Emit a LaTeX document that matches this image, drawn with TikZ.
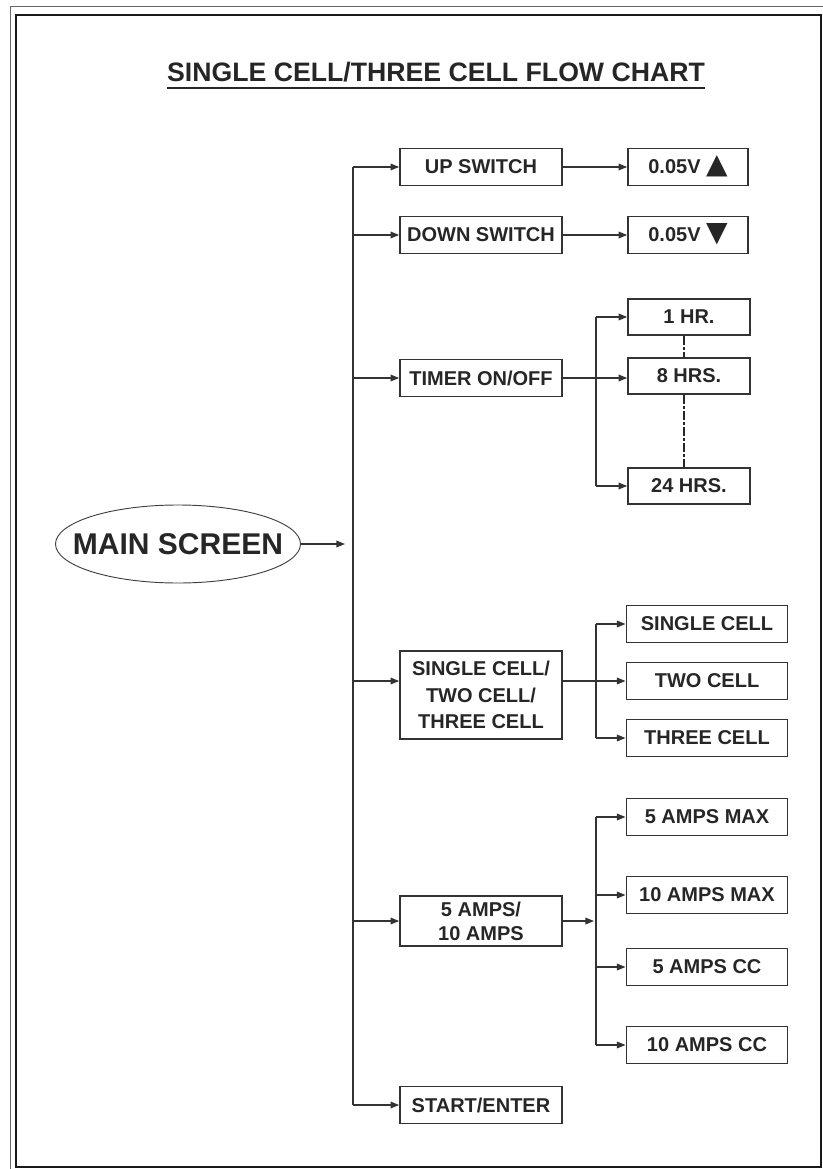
\documentclass[tikz,border=0pt]{standalone}
\usepackage{fontspec}
\setmainfont{Liberation Sans}
\newfontfamily\symfont{DejaVu Sans}
\usetikzlibrary{arrows.meta,shapes.geometric}
\newcommand{\tri}[1]{\smash{\symfont\fontsize{21}{21}\selectfont #1}}
\tikzset{
  box/.style={draw=black!80, line width=1.2pt, inner sep=0pt, align=center,
    text=black!85, font=\fontsize{15}{20}\selectfont\bfseries, minimum height=27.5pt},
  midbox/.style={box, minimum width=121.5pt},
  valbox/.style={box, minimum width=90pt},
  hrbox/.style={box, minimum width=91.5pt, minimum height=27pt},
  optbox/.style={box, minimum width=121pt},
  link/.style={draw=black!80, line width=1pt},
  arr/.style={link, -{Triangle[length=6.5pt,width=5pt]}},
}
\begin{document}
\begin{tikzpicture}[x=0.75pt,y=-0.75pt]
        \useasboundingbox (0,0) rectangle (823,1169);
        \clip (0,0) rectangle (823,1169);
        % Frame
        \draw[black!60, line width=0.7pt] (10,6) rectangle (829,1176);
        \draw[black!90, line width=1.6pt] (16,15) rectangle (821,1167);
        % Title
        \node[anchor=base, inner sep=0pt, text=black!85, font=\fontsize{20}{24}\selectfont\bfseries]
          (title) at (436,82) {SINGLE CELL/THREE CELL FLOW CHART};
        \draw[black!85, line width=1.6pt] ([yshift=-4.5pt]title.base west) -- ([yshift=-4.5pt]title.base east);
        % Main screen and bus
        \node[ellipse, draw=black!75, line width=0.7pt, inner xsep=-14pt, inner ysep=0pt,
          minimum width=183.75pt, minimum height=58.5pt, text=black!85,
          font=\fontsize{22.5}{27}\selectfont\bfseries] (main) at (178,544) {MAIN SCREEN};
        \coordinate (bus) at (353,544);
        \coordinate (mtip) at (345,544);
        \coordinate (sub) at (596,544);
        % Menu items
        \node[midbox] (up) at (481,167) {UP SWITCH};
        \node[midbox] (down) at (481,235) {DOWN SWITCH};
        \node[midbox] (timer) at (481,378) {TIMER ON/OFF};
        \node[midbox, minimum height=66pt] (cells) at (481,695) {SINGLE CELL/\\TWO CELL/\\THREE CELL};
        \node[midbox, minimum height=37.5pt, font=\fontsize{15}{18}\selectfont\bfseries]
          (amps) at (481,921) {5 AMPS/\\10 AMPS};
        \node[midbox] (start) at (481,1105) {START/ENTER};
        % Settings
        \node[valbox] (vup) at (688,167) {0.05V\ \tri{▲}};
        \node[valbox] (vdown) at (688,235) {0.05V\ \tri{▼}};
        \node[hrbox] (h1) at (689,317) {1 HR.};
        \node[hrbox] (h8) at (689,376) {8 HRS.};
        \node[hrbox] (h24) at (689,486) {24 HRS.};
        \node[optbox] (one) at (707,624) {SINGLE CELL};
        \node[optbox] (two) at (707,681) {TWO CELL};
        \node[optbox] (three) at (707,738) {THREE CELL};
        \node[optbox] (a5max) at (707,817) {5 AMPS MAX};
        \node[optbox] (a10max) at (707,895) {10 AMPS MAX};
        \node[optbox] (a5cc) at (707,967) {5 AMPS CC};
        \node[optbox] (a10cc) at (707,1045) {10 AMPS CC};
        % Main bus
        \draw[arr] (main.east) -- (mtip);
        \draw[link] (bus |- up.west) -- (bus |- start.west);
        \draw[arr] (bus |- up.west) -- (up.west);
        \draw[arr] (bus |- down.west) -- (down.west);
        \draw[arr] (bus |- timer.west) -- (timer.west);
        \draw[arr] (bus |- two.west) -- (cells.west |- two.west);
        \draw[arr] (bus |- amps.west) -- (amps.west);
        \draw[arr] (bus |- start.west) -- (start.west);
        % Switches
        \draw[arr] (up.east) -- (vup.west);
        \draw[arr] (down.east) -- (vdown.west);
        % Timer
        \draw[arr] (timer.east) -- (timer.east -| h8.west);
        \draw[link] (sub |- h1.west) -- (sub |- h24.west);
        \draw[arr] (sub |- h1.west) -- (h1.west);
        \draw[arr] (sub |- h24.west) -- (h24.west);
        \draw[black!85, line width=2.2pt, dash pattern=on 7pt off 1.5pt on 2pt off 1.5pt]
          ([xshift=-3.75pt]h1.south) -- ([xshift=-3.75pt]h8.north);
        \draw[black!85, line width=2.2pt, dash pattern=on 7pt off 1.5pt on 2pt off 1.5pt]
          ([xshift=-3.75pt]h8.south) -- ([xshift=-3.75pt]h24.north);
        % Cells
        \draw[arr] (cells.east |- two.west) -- (two.west);
        \draw[link] (sub |- one.west) -- (sub |- three.west);
        \draw[arr] (sub |- one.west) -- (one.west);
        \draw[arr] (sub |- three.west) -- (three.west);
        % Amps
        \draw[arr] (amps.east) -- ([xshift=-1.5pt]sub |- amps.east);
        \draw[link] (sub |- a5max.west) -- (sub |- a10cc.west);
        \draw[arr] (sub |- a5max.west) -- (a5max.west);
        \draw[arr] (sub |- a10max.west) -- (a10max.west);
        \draw[arr] (sub |- a5cc.west) -- (a5cc.west);
        \draw[arr] (sub |- a10cc.west) -- (a10cc.west);
\end{tikzpicture}
\end{document}
